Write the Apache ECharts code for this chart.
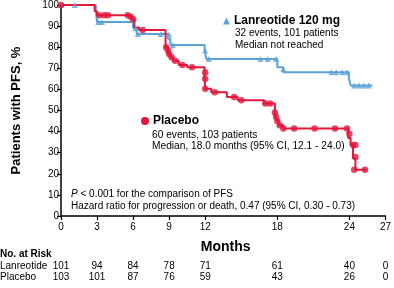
<!DOCTYPE html>
<html>
<head>
<meta charset="utf-8">
<script src="https://cdn.jsdelivr.net/npm/echarts@6/dist/echarts.min.js"></script>
<style>
  html, body { margin: 0; padding: 0; background: #fff; }
  #chart { width: 394px; height: 288px; }
</style>
</head>
<body>
<div id="chart"></div>
<script>
// KM step curves: [month, % after drop]
const lanreotideCurve = [
  [0, 100], [2.9, 97], [3.0, 92], [6.0, 89], [6.3, 86.2], [8.9, 84], [9.1, 81],
  [11.95, 78.4], [12.1, 74.4], [18.0, 70.5], [18.5, 68.1], [23.95, 65.5],
  [24.1, 61.9], [25.9, 61.9]
];
const placeboCurve = [
  [0, 100], [2.8, 97], [3.0, 95.1], [5.7, 94.4], [5.9, 93.3], [6.1, 89.3],
  [6.5, 88.1], [8.7, 80], [8.9, 76.8], [9.1, 75.2], [9.3, 73.6], [9.8, 71.6],
  [10.5, 70.5], [11.95, 66], [12.0, 60.3], [12.5, 58.7], [13.8, 56.4],
  [14.7, 54.8], [16.9, 53.3], [17.8, 49.3], [17.9, 45.4], [18.1, 43],
  [18.5, 41.5], [23.9, 37], [24.1, 33.6], [24.3, 27.4], [24.5, 21.9], [25.4, 21.9]
];
// censor marks
const lanreotideMarks = [
  [0, 100], [1.15, 100], [3.1, 92], [3.4, 92], [6.2, 89], [6.4, 86.2], [8.3, 86.2],
  [9.0, 86], [9.3, 81], [12.0, 78.4], [12.3, 74.4], [16.6, 74.4], [17.2, 74.4],
  [17.9, 74.4], [18.5, 69.7], [22.5, 68.1], [22.9, 68.1], [23.4, 68.1], [23.8, 68.1],
  [24.4, 61.9], [24.8, 61.9], [25.2, 61.9], [25.6, 61.9]
];
const placeboMarks = [
  [0, 100], [3.2, 95.1], [3.6, 95.1], [3.9, 95.1], [5.55, 95.1], [5.8, 94.4],
  [6.0, 93.3], [6.8, 88.1], [8.75, 80], [8.9, 78.4], [9.0, 76.8], [9.2, 75.2],
  [9.5, 73.6], [10.1, 71.6], [10.9, 70.5], [12.0, 68], [12.0, 65], [12.0, 60.3],
  [12.8, 58.7], [14.4, 56.4], [15.0, 54.8], [17.0, 53.3], [17.4, 53.3], [17.8, 49],
  [17.9, 47], [18.0, 45], [18.2, 43], [18.5, 41.5], [19.4, 41.5], [21.1, 41.5],
  [22.8, 41.5], [23.8, 41.5], [24.0, 39], [24.3, 33.6], [24.5, 33.6], [24.5, 28],
  [24.4, 21.9], [25.3, 21.9]
];
const monthTicks = [0, 3, 6, 9, 12, 18, 24, 27];
const riskLanreotide = [101, 94, 84, 78, 71, 61, 40, 0];
const riskPlacebo = [103, 101, 87, 76, 59, 43, 26, 0];

const RED = '#e3173c';
const BLUE = '#5ba3d7';
const FONT = "'Liberation Sans', Arial, sans-serif";

const riskAxis = (offset, values) => ({
  type: 'value', min: 0, max: 27, position: 'bottom', offset: offset,
  axisLine: { show: false }, axisTick: { show: false }, splitLine: { show: false },
  axisLabel: {
    customValues: monthTicks, margin: 0, fontSize: 10, fontFamily: FONT, color: '#000',
    formatter: (v) => String(values[monthTicks.indexOf(v)])
  }
});

const txt = (x, y, text, extra) => ({
  type: 'text', left: x, top: y,
  style: Object.assign({ text: text, fontSize: 10, fontFamily: FONT, fill: '#000' }, extra || {})
});

const chart = echarts.init(document.getElementById('chart'), null, { renderer: 'canvas' });
chart.setOption({
  animation: false,
  grid: { left: 61, right: 6, top: 4, bottom: 72 },
  xAxis: [
    {
      type: 'value', min: 0, max: 27,
      name: 'Months', nameLocation: 'middle', nameGap: 24,
      nameTextStyle: { fontSize: 14, fontWeight: 'bold', fontFamily: FONT, color: '#000', padding: [0, 0, 0, 5] },
      axisLine: { lineStyle: { color: '#000', width: 1.5 } },
      axisTick: { customValues: monthTicks, length: 4, lineStyle: { color: '#000', width: 1.2 } },
      axisLabel: { customValues: monthTicks, margin: 6, fontSize: 10, fontFamily: FONT, color: '#000' },
      splitLine: { show: false }
    },
    riskAxis(45, riskLanreotide),
    riskAxis(56, riskPlacebo)
  ],
  yAxis: {
    type: 'value', min: 0, max: 100, interval: 10,
    name: 'Patients with PFS, %', nameLocation: 'middle', nameGap: 38,
    nameTextStyle: { fontSize: 13, fontWeight: 'bold', fontFamily: FONT, color: '#000' },
    axisLine: { show: true, lineStyle: { color: '#000', width: 1.5 } },
    axisTick: { show: true, length: 4, lineStyle: { color: '#000', width: 1.2 } },
    axisLabel: { margin: 2, fontSize: 10, fontFamily: FONT, color: '#000' },
    splitLine: { show: false }
  },
  legend: [
    {
      data: [{ name: 'Lanreotide 120 mg', icon: 'triangle' }],
      left: 223, top: 15, padding: 0, itemWidth: 7, itemHeight: 7, itemGap: 4,
      selectedMode: false,
      textStyle: { fontSize: 12, fontWeight: 'bold', fontFamily: FONT, color: '#000', padding: [0, 0, 0, -1] }
    },
    {
      data: [{ name: 'Placebo', icon: 'circle' }],
      left: 141, top: 115, padding: 0, itemWidth: 8, itemHeight: 8, itemGap: 4,
      selectedMode: false,
      textStyle: { fontSize: 12, fontWeight: 'bold', fontFamily: FONT, color: '#000', padding: [0, 0, 0, -1] }
    }
  ],
  graphic: [
    txt(235, 28, '32 events, 101 patients'),
    txt(235, 40, 'Median not reached'),
    txt(152, 130, '60 events, 103 patients', { fontSize: 10.2 }),
    txt(152, 141, 'Median, 18.0 months (95% CI, 12.1 - 24.0)', { fontSize: 10.2 }),
    txt(71, 189, '{i|P} < 0.001 for the comparison of PFS', {
      rich: { i: { fontStyle: 'italic', fontSize: 10, fontFamily: FONT, fill: '#000' } }
    }),
    txt(71, 201, 'Hazard ratio for progression or death, 0.47 (95% CI, 0.30 - 0.73)'),
    txt(0, 249, 'No. at Risk', { fontWeight: 'bold' }),
    txt(0, 261, 'Lanreotide'),
    txt(0, 272, 'Placebo')
  ],
  series: [
    {
      name: 'Lanreotide 120 mg', type: 'line', step: 'end', data: lanreotideCurve,
      showSymbol: false, color: BLUE, lineStyle: { width: 2, color: BLUE }, z: 2
    },
    {
      name: 'Placebo', type: 'line', step: 'end', data: placeboCurve,
      showSymbol: false, color: RED, lineStyle: { width: 2, color: RED }, z: 3
    },
    {
      name: 'Lanreotide censored', type: 'scatter', data: lanreotideMarks,
      symbol: 'triangle', symbolSize: 6, itemStyle: { color: BLUE }, z: 4
    },
    {
      name: 'Placebo censored', type: 'scatter', data: placeboMarks,
      symbol: 'circle', symbolSize: 6.5, itemStyle: { color: RED }, z: 5
    }
  ]
});
</script>
</body>
</html>
